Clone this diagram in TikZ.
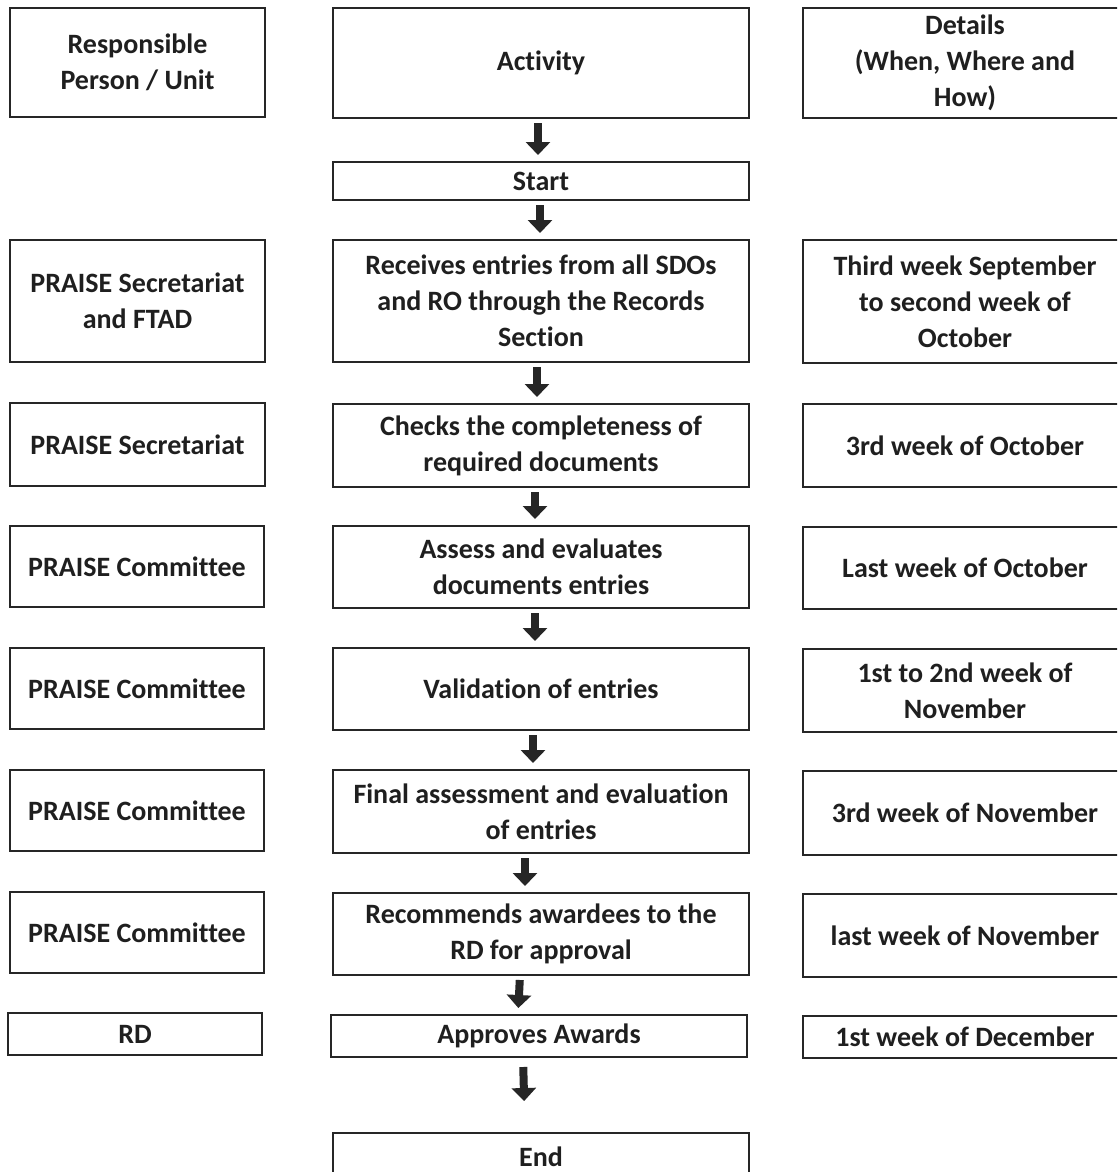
\documentclass[tikz,border=0pt]{standalone}
\usepackage{fontspec}
\setmainfont{Carlito}[Ligatures=NoCommon]
\usetikzlibrary{arrows.meta}
\begin{document}
\begin{tikzpicture}[x=1pt,y=-1pt,
  box/.style={draw=black!85, line width=1.8pt, inner sep=0pt, outer sep=0pt, align=center,
    font=\fontsize{28}{36}\selectfont\bfseries, text=black!88},
  flow/.style={line width=8pt, draw=black!85, -{Triangle[width=24pt,length=13pt]},
    shorten <=5pt, shorten >=7pt}]
\useasboundingbox (0,0) rectangle (1117,1172);
\clip (0,0) rectangle (1117,1172);
\fill[white] (0,0) rectangle (1117,1172);
\newcommand\bx[6]{\node[box, minimum width={#4-#2}, minimum height={#5-#3}] (#1) at ({(#2+#4)/2},{(#3+#5)/2}) {#6};}
% left column
\bx{h1}{10}{8}{265}{117}{Responsible\\Person / Unit}
\bx{l1}{10}{240}{265}{362}{PRAISE Secretariat\\and FTAD}
\bx{l2}{10}{403}{265}{486}{PRAISE Secretariat}
\bx{l3}{10}{526}{264}{607}{PRAISE Committee}
\bx{l4}{10}{648}{264}{729}{PRAISE Committee}
\bx{l5}{10}{770}{264}{851}{PRAISE Committee}
\bx{l6}{10}{892}{264}{973}{PRAISE Committee}
\bx{l7}{8}{1013}{262}{1055}{RD}
% middle column
\bx{h2}{333}{8}{749}{118}{Activity}
\bx{m0}{333}{162}{749}{200}{Start}
\bx{m1}{333}{240}{749}{362}{Receives entries from all SDOs\\and RO through the Records\\Section}
\bx{m2}{333}{404}{749}{487}{Checks the completeness of\\required documents}
\bx{m3}{333}{526}{749}{608}{Assess and evaluates\\documents entries}
\bx{m4}{333}{648}{749}{730}{Validation of entries}
\bx{m5}{333}{770}{749}{853}{Final assessment and evaluation\\of entries}
\bx{m6}{333}{893}{749}{975}{Recommends awardees to the\\RD for approval}
\bx{m7}{331}{1015}{747}{1057}{Approves Awards}
\bx{m8}{333}{1133}{749}{1180}{End}
% right column
\bx{h3}{803}{8}{1127}{118}{Details\\(When, Where and\\How)}
\bx{r1}{803}{240}{1127}{363}{Third week September\\to second week of\\October}
\bx{r2}{803}{404}{1127}{487}{3rd week of October}
\bx{r3}{803}{527}{1127}{609}{Last week of October}
\bx{r4}{803}{649}{1127}{732}{1st to 2nd week of\\November}
\bx{r5}{803}{771}{1127}{855}{3rd week of November}
\bx{r6}{803}{894}{1127}{977}{last week of November}
\bx{r7}{803}{1016}{1127}{1058}{1st week of December}
% arrows
\draw[flow] ([xshift=-3pt]h2.south) -- ([xshift=-3pt]m0.north);
\draw[flow] ([xshift=-1pt]m0.south) -- ([xshift=-1pt]m1.north);
\draw[flow] ([xshift=-4pt]m1.south) -- ([xshift=-4pt]m2.north);
\draw[flow] ([xshift=-6pt]m2.south) -- ([xshift=-6pt]m3.north);
\draw[flow] ([xshift=-6pt]m3.south) -- ([xshift=-6pt]m4.north);
\draw[flow] ([xshift=-8pt]m4.south) -- ([xshift=-8pt]m5.north);
\draw[flow] ([xshift=-16pt]m5.south) -- ([xshift=-16pt]m6.north);
\draw[flow] ([xshift=-21pt]m6.south) -- ([xshift=-21pt]m7.north);
\draw[flow, shorten <=10pt, shorten >=32pt] ([xshift=-16pt]m7.south) -- ([xshift=-16pt]m8.north);
\end{tikzpicture}
\end{document}
